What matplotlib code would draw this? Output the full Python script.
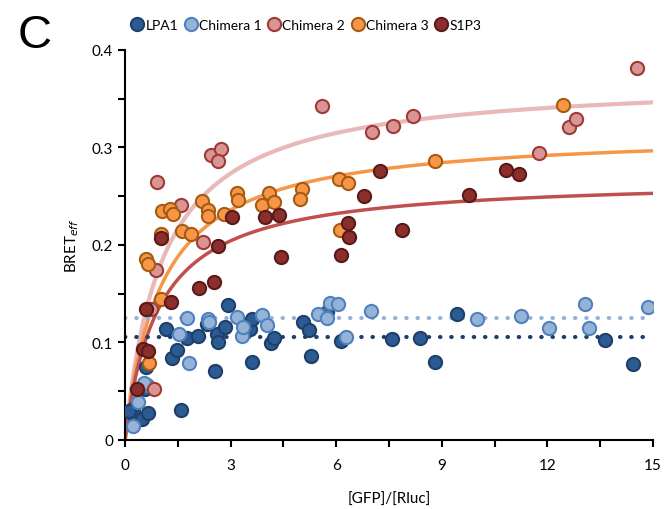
import numpy as np
import matplotlib.pyplot as plt
from matplotlib.ticker import MultipleLocator

plt.rcParams['font.family'] = ['Lato', 'DejaVu Sans']

# data: [GFP]/[Rluc] vs BRETeff
lpa1_x = [0.22, 0.24, 0.47, 0.66, 0.60, 0.57, 1.16, 1.33, 1.48, 1.59, 1.77, 2.08, 2.34, 2.56,
          2.60, 2.65, 2.85, 2.94, 3.55, 3.62, 3.62, 4.14, 4.23, 5.05, 5.23, 5.27, 5.73, 6.15,
          7.59, 8.38, 8.82, 9.42, 13.64, 14.44, 0.12]
lpa1_y = [0.032, 0.027, 0.022, 0.028, 0.075, 0.052, 0.114, 0.084, 0.092, 0.031, 0.105, 0.107,
          0.119, 0.071, 0.109, 0.100, 0.116, 0.138, 0.114, 0.124, 0.080, 0.099, 0.105, 0.121,
          0.113, 0.086, 0.131, 0.102, 0.104, 0.105, 0.080, 0.129, 0.103, 0.078, 0.030]

chim1_x = [0.24, 0.38, 0.62, 0.55, 1.54, 1.77, 1.82, 2.35, 2.40, 3.19, 3.31, 3.36, 3.88, 4.02,
           5.49, 5.73, 5.82, 6.06, 6.27, 7.00, 10.01, 11.25, 12.05, 13.06, 13.19, 14.85]
chim1_y = [0.014, 0.039, 0.056, 0.058, 0.109, 0.125, 0.079, 0.124, 0.121, 0.126, 0.107, 0.116,
           0.128, 0.118, 0.129, 0.125, 0.140, 0.139, 0.106, 0.132, 0.124, 0.127, 0.115, 0.139,
           0.115, 0.136]

chim2_x = [0.90, 1.58, 2.43, 2.74, 2.63, 0.87, 2.22, 0.73, 0.82, 5.60, 7.02, 7.60, 8.17, 11.76,
           12.61, 12.80, 14.55]
chim2_y = [0.265, 0.241, 0.292, 0.298, 0.286, 0.174, 0.203, 0.134, 0.052, 0.343, 0.316, 0.322,
           0.332, 0.294, 0.321, 0.329, 0.382]

chim3_x = [0.61, 0.66, 1.02, 1.04, 1.28, 1.37, 1.63, 1.88, 2.18, 2.37, 2.35, 2.81, 3.17, 3.22,
           3.88, 4.09, 4.24, 5.02, 4.97, 6.08, 6.34, 6.11, 1.02, 0.69, 8.80, 12.45]
chim3_y = [0.186, 0.181, 0.211, 0.235, 0.237, 0.232, 0.214, 0.211, 0.245, 0.236, 0.230, 0.232,
           0.253, 0.246, 0.241, 0.253, 0.244, 0.257, 0.247, 0.268, 0.264, 0.215, 0.145, 0.079,
           0.286, 0.344]

s1p3_x = [1.01, 0.61, 1.30, 2.11, 2.54, 2.63, 3.05, 3.99, 4.38, 4.42, 6.14, 6.34, 6.36, 6.79,
          7.24, 0.35, 0.52, 0.64, 7.88, 9.76, 10.82, 11.19]
s1p3_y = [0.207, 0.134, 0.142, 0.156, 0.162, 0.199, 0.229, 0.229, 0.231, 0.188, 0.190, 0.223,
          0.208, 0.250, 0.276, 0.052, 0.093, 0.091, 0.215, 0.251, 0.277, 0.273]

# fitted saturation curves (Bmax, Kd) and flat levels
fit_chim2 = (0.371, 1.07)
fit_chim3 = (0.317, 1.03)
fit_s1p3 = (0.269, 0.95)
flat_lpa1 = 0.106
flat_chim1 = 0.125

fig = plt.figure(figsize=(6.66, 5.10), dpi=100)
ax = fig.add_axes([0.1877, 0.1353, 0.7928, 0.7647])

xx = np.linspace(0, 15, 300)
ax.plot(xx, fit_chim2[0]*xx/(fit_chim2[1]+xx), color='#E8B9B8', lw=3, zorder=1)
ax.plot(xx, fit_chim3[0]*xx/(fit_chim3[1]+xx), color='#F79646', lw=2.5, zorder=1)
ax.plot(xx, fit_s1p3[0]*xx/(fit_s1p3[1]+xx), color='#C0504D', lw=2.5, zorder=1)
ax.plot([0, 15], [flat_chim1, flat_chim1], color='#95B3D7', lw=3, ls=(0, (0.1, 2.6)),
        dash_capstyle='round', zorder=1)
ax.plot([0, 15], [flat_lpa1, flat_lpa1], color='#1F3F6B', lw=3, ls=(0, (0.1, 2.6)),
        dash_capstyle='round', zorder=1)

series = [
    ('LPA1', lpa1_x, lpa1_y, '#2C5A92', '#1E3F6A'),
    ('Chimera 1', chim1_x, chim1_y, '#95B3D7', '#4F81BD'),
    ('Chimera 2', chim2_x, chim2_y, '#D99594', '#9E3A38'),
    ('Chimera 3', chim3_x, chim3_y, '#F79646', '#A65B12'),
    ('S1P3', s1p3_x, s1p3_y, '#8B2F2D', '#5A1A19'),
]
for name, x, y, fc, ec in series:
    ax.plot(x, y, 'o', ms=9.5, mfc=fc, mec=ec, mew=1.5, label=name, zorder=3)

ax.set_xlim(0, 15)
ax.set_ylim(0, 0.4)
ax.set_xticks([0, 3, 6, 9, 12, 15])
ax.set_yticks([0, 0.1, 0.2, 0.3, 0.4])
ax.set_yticklabels(['0', '0.1', '0.2', '0.3', '0.4'])
ax.xaxis.set_minor_locator(MultipleLocator(1.5))
ax.yaxis.set_minor_locator(MultipleLocator(0.05))
ax.spines['top'].set_visible(False)
ax.spines['right'].set_visible(False)
for s in ['left', 'bottom']:
    ax.spines[s].set_linewidth(1.5)
ax.tick_params(which='both', direction='out', length=5, width=1.5, labelsize=11, colors='black')
ax.tick_params(axis='x', which='major', pad=8)
ax.set_xlabel('[GFP]/[Rluc]', fontsize=11, labelpad=14)
ax.set_ylabel('BRET$_{\\mathit{eff}}$', fontsize=11, labelpad=8)

fig.legend(loc='upper center', bbox_to_anchor=(0.46, 0.985), ncol=5, frameon=False,
           fontsize=10, handletextpad=0.2, columnspacing=0.5, handlelength=0.8, markerscale=1.0)
fig.text(0.027, 0.905, 'C', fontsize=34, family='Liberation Sans')

fig.savefig('out.png', dpi=100)
